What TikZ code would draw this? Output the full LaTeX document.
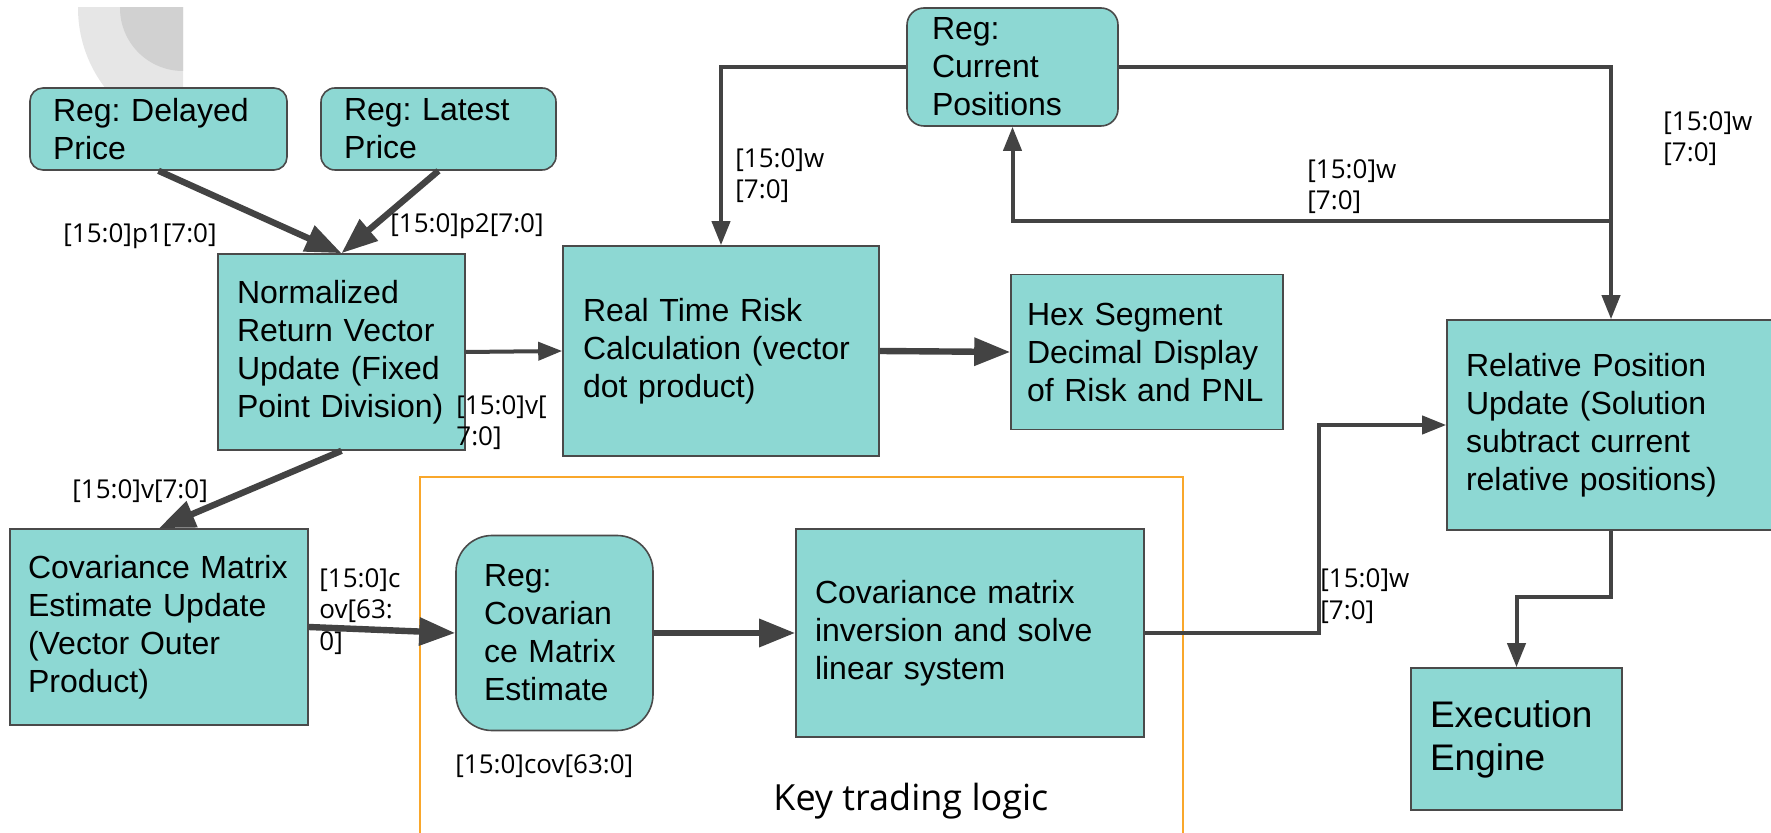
\documentclass[tikz,border=0pt]{standalone}
\usepackage{fontspec}
\setmainfont{Liberation Sans}
\newfontfamily\lblfamily{Open Sans}
\usetikzlibrary{arrows.meta}
\frenchspacing

\definecolor{tealfill}{HTML}{8DD8D3}
\definecolor{edgegray}{HTML}{4A4A4A}
\definecolor{wiregray}{HTML}{434343}
\definecolor{frameorange}{HTML}{F9A72B}
\definecolor{logolight}{HTML}{E6E6E6}
\definecolor{logodark}{HTML}{D1D1D1}

\begin{document}
\begin{tikzpicture}[
      x=0.5pt, y=-0.5pt,
      blk/.style={draw=edgegray, fill=tealfill, line width=0.8pt, align=left, inner xsep=9.5pt, inner ysep=0pt, font=\fontsize{16}{19}\selectfont},
      reg/.style={blk, rounded corners=7pt},
      lbl/.style={anchor=base west, inner sep=0pt, align=left, font=\lblfamily\fontsize{13}{15.75}\selectfont},
      arr/.style={draw=wiregray, line width=2pt, -{Triangle[length=12pt,width=9pt]}},
      fatarr/.style={draw=wiregray, line width=3.2pt, -{Triangle[length=18pt,width=13.5pt]}}
    ]
    \useasboundingbox (0,0) rectangle (1771,833);

    % faded logo in the top left corner
    \begin{scope}
      \clip (78,8) rectangle (183,90);
      \fill[logolight] (209,8) circle[radius=65.5pt];
      \fill[logodark] (183,8) circle[radius=31.5pt];
    \end{scope}

    % Key trading logic frame (open at the bottom)
    \draw[frameorange, line width=1pt] (420,850) |- (1183,477) -- (1183,850);
    \node[anchor=base west, inner sep=0pt, font=\lblfamily\fontsize{18}{22}\selectfont] (keylogic) at (773,810) {Key trading logic};

    % Top row: price registers
    \node[reg, rounded corners=6.5pt, inner xsep=11.5pt, text width=105.5pt, minimum height=41pt] (delayed) at (158.5,129) {Reg: Delayed\\Price};
    \node[reg, inner xsep=11.5pt, text width=94.5pt, minimum height=41pt] (latest) at (438.5,129) {Reg: Latest\\Price};
    \node[reg, rounded corners=8.5pt, inner xsep=12.5pt, text width=80.5pt, minimum height=59pt] (regcur) at (1012.5,67) {Reg:\\Current\\Positions};

    % Middle row
    \node[blk, text width=104.5pt, minimum height=98pt] (norm) at (341.5,352) {Normalized\\Return Vector\\Update (Fixed\\Point Division)};
    \node[blk, inner xsep=10pt, text width=138pt, minimum height=105pt] (risk) at (721,351) {Real Time Risk\\Calculation (vector\\dot product)};
    \node[blk, inner xsep=8pt, text width=120pt, minimum height=77.5pt] (hex) at (1147,352) {Hex Segment\\Decimal Display\\of Risk and PNL};
    \node[blk, text width=145pt, minimum height=105pt] (relpos) at (1611,425) {Relative Position\\Update (Solution\\subtract current\\relative positions)};

    % Bottom row
    \node[blk, inner xsep=9pt, text width=131pt, minimum height=98pt] (covest) at (159,627) {Covariance Matrix\\Estimate Update\\(Vector Outer\\Product)};
    \node[reg, rounded corners=18pt, inner xsep=14pt, text width=70.5pt, minimum height=97.5pt] (regcov) at (554.5,633) {Reg:\\Covarian\\ce Matrix\\Estimate};
    \node[blk, text width=155pt, minimum height=104pt] (covinv) at (970,633) {Covariance matrix\\inversion and solve\\linear system};
    \node[blk, text width=86.5pt, minimum height=71pt, font=\fontsize{18.5}{21.5}\selectfont] (exec) at (1516.5,739) {Execution\\Engine};

    % bends of the routed wires
    \coordinate (fork) at (1611,221);
    \coordinate (bend) at (1319,425);
    \coordinate (jog) at (1564,597);

    % Data path (heavy arrows)
    \draw[fatarr] (delayed.south) -- (norm.north);
    \draw[fatarr] (latest.south) -- (norm.north);
    \draw[fatarr] (norm.south) -- (covest.north);
    \draw[fatarr] (covest.east) -- (regcov.west);
    \draw[fatarr] (regcov.east) -- (covinv.west);
    \draw[fatarr] (risk.east) -- (hex.west);
    \draw[arr] (norm.east) -- (risk.west);

    % Position feedback loop
    \draw[arr] (regcur.west) -| (risk.north);
    \draw[arr] (regcur.east) -| (relpos.north);
    \draw[arr] (fork) -| (regcur.south);
    \draw[arr] (covinv.east) -| (bend) -- (relpos.west);
    \draw[arr] (relpos.south) |- (jog) -| (exec.north);

    % Bus width labels (base = last line)
    \node[lbl] (lblpone) at (63,243) {[15:0]p1[7:0]};
    \node[lbl] (lblptwo) at (390,233) {[15:0]p2[7:0]};
    \node[lbl] (lblvrisk) at (456,446) {[15:0]v[\\7:0]};
    \node[lbl] (lblvcov) at (72,499) {[15:0]v[7:0]};
    \node[lbl] (lblcov) at (319,650) {[15:0]c\\ov[63:\\0]};
    \node[lbl] (lblcovreg) at (455,773) {[15:0]cov[63:0]};
    \node[lbl] (lblwsol) at (1320,619) {[15:0]w\\{}[7:0]};
    \node[lbl] (lblwrisk) at (735,199) {[15:0]w\\{}[7:0]};
    \node[lbl] (lblwback) at (1307,210) {[15:0]w\\{}[7:0]};
    \node[lbl] (lblwrel) at (1663,162) {[15:0]w\\{}[7:0]};
  \end{tikzpicture}
\end{document}
